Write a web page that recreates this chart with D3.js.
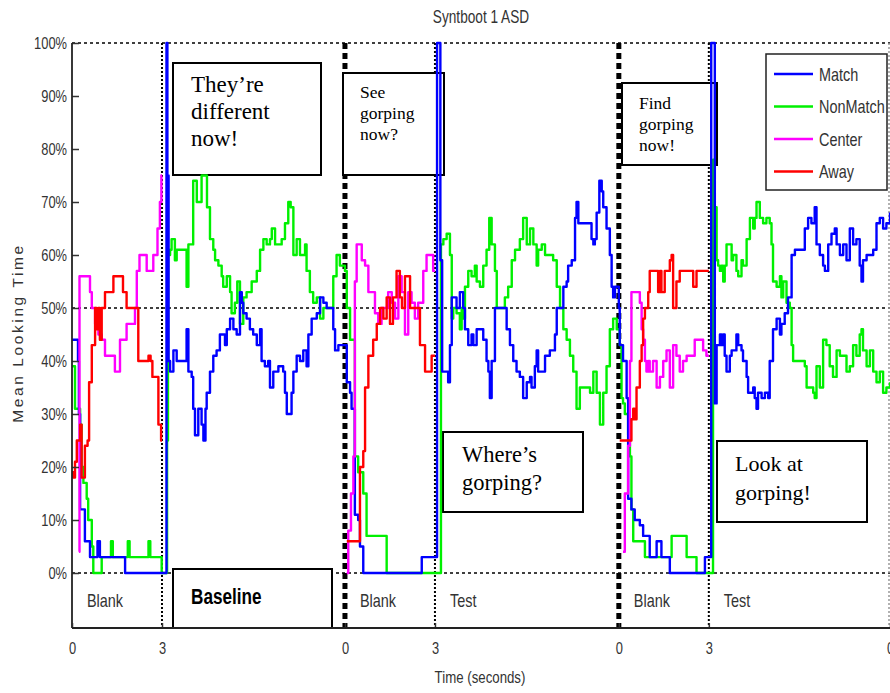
<!DOCTYPE html>
<html>
<head>
<meta charset="utf-8">
<script src="https://cdn.jsdelivr.net/npm/d3@7"></script>
<style>
  body { margin: 0; background: #fff; }
</style>
</head>
<body>
<div id="vis"></div>
<script>
// Syntboot 1 ASD - mean looking time per trial phase

// three trials on one time axis: each one is 3 s blank, then the test phase
const segStarts = [0, 9.1, 18.23];
const tEnd = 27.27;
const blankLen = 3;
const phaseNames = ["Blank", "Blank", "Test", "Blank", "Test"];
const xTickLabels = ["0", "3", "0", "3", "0", "3", "0"];
const yTicks = [0, 10, 20, 30, 40, 50, 60, 70, 80, 90, 100];

// [time within trial (s), % looking]
const matchSeg1 = [[0,44],[0.2,40],[0.23,30],[0.27,12],[0.33,12],[0.43,6],[0.6,3],[0.85,6],[0.93,3],[1.77,0],
  [3.15,100],[3.18,75],[3.22,40],[3.27,38],[3.38,42],[3.49,40],[3.77,40],[3.82,46],[3.88,38],[3.99,37],[4.04,31],
  [4.1,26],[4.21,31],[4.32,28],[4.38,25],[4.45,31],[4.49,34],[4.6,38],[4.71,41],[4.82,42],[4.93,45],[5.1,43],
  [5.16,46],[5.27,48],[5.38,46],[5.49,45],[5.6,53],[5.66,51],[5.71,49],[5.82,48],[5.93,46],[6.04,45],[6.16,43],
  [6.27,46],[6.32,40],[6.43,39],[6.54,40],[6.6,35],[6.71,38],[6.88,39],[7.04,38],[7.1,34],[7.16,30],[7.27,30],
  [7.32,34],[7.38,38],[7.49,41],[7.6,40],[7.71,42],[7.82,39],[7.88,45],[7.99,48],[8.16,49],[8.27,52],[8.38,51],
  [8.49,50],[8.71,46],[8.77,42],[8.88,43],[9.1,43]];
const nonMatchSeg1 = [[0,39],[0.1,31],[0.27,28],[0.32,20],[0.38,17],[0.49,14],[0.54,10],[0.66,5],[0.71,0],[0.99,3],
  [1.3,6],[1.36,3],[1.86,6],[1.92,3],[2.55,6],[2.61,3],[2.99,0],
  [3.17,25],[3.2,60],[3.27,61],[3.32,63],[3.43,59],[3.49,61],[3.77,61],[3.82,54],[3.88,62],[4.04,74],[4.16,70],
  [4.27,70],[4.32,75],[4.43,75],[4.5,69],[4.6,63],[4.71,61],[4.77,59],[4.88,58],[4.99,56],[5.04,54],[5.16,56],
  [5.27,53],[5.32,49],[5.43,51],[5.51,55],[5.6,47],[5.71,52],[5.82,53],[5.99,55],[6.16,57],[6.27,61],[6.38,63],
  [6.49,62],[6.6,63],[6.66,65],[6.77,62],[6.99,63],[7.1,66],[7.21,70],[7.29,69],[7.38,60],[7.49,63],[7.6,60],
  [7.77,62],[7.82,57],[7.93,53],[8.04,51],[8.16,52],[8.27,48],[8.38,50],[8.6,50],[8.71,56],[8.82,60],[8.93,58],[9.1,57]];
const centerSeg1 = [[0.23,4],[0.25,56],[0.6,53],[0.66,50],[0.77,47],[0.88,45],[0.99,44],[1.1,41],[1.43,38],[1.6,44],
  [1.82,47],[2.1,50],[2.16,57],[2.25,60],[2.49,57],[2.71,60],[2.85,65],[2.93,70],[2.98,75],[3.0,75]];
const awaySeg1 = [[0,19],[0.04,18],[0.1,21],[0.16,25],[0.27,28],[0.32,18],[0.43,24],[0.52,25],[0.57,36],[0.66,43],
  [0.77,50],[0.82,46],[0.88,50],[0.93,44],[0.99,50],[1.1,53],[1.38,56],[1.7,53],[1.82,50],[2.16,50],[2.21,40],
  [2.55,41],[2.62,40],[2.68,37],[2.88,28],[2.97,25],[3.0,25]];

const matchSeg2 = [[0,43],[0.06,36],[0.17,34],[0.22,31],[0.33,11],[0.44,10],[0.5,5],[0.61,0],[2.56,3],
  [3.07,100],[3.18,59],[3.24,38],[3.44,36],[3.5,43],[3.56,52],[3.72,50],[3.83,53],[3.94,50],[4.0,46],[4.11,43],
  [4.22,45],[4.28,43],[4.39,46],[4.5,46],[4.61,44],[4.72,40],[4.78,38],[4.83,33],[4.89,40],[5.0,50],[5.28,50],
  [5.39,46],[5.5,43],[5.61,40],[5.72,38],[5.83,37],[5.94,33],[6.06,36],[6.17,37],[6.22,35],[6.33,39],[6.39,42],
  [6.44,38],[6.56,38],[6.67,41],[6.83,42],[7.0,45],[7.06,50],[7.17,50],[7.28,54],[7.39,55],[7.44,58],[7.56,59],
  [7.67,67],[7.72,70],[7.78,66],[8.17,66],[8.22,63],[8.28,62],[8.33,63],[8.39,68],[8.48,74],[8.56,72],[8.61,69],
  [8.72,65],[8.83,60],[8.89,54],[8.94,52],[9.0,54],[9.13,54]];
const nonMatchSeg2 = [[0,57],[0.06,50],[0.17,44],[0.33,22],[0.44,19],[0.61,15],[0.72,7],[1.33,7],[1.39,0],
  [3.18,0],[3.2,62],[3.28,63],[3.39,64],[3.5,60],[3.56,48],[3.61,50],[3.72,49],[3.83,46],[3.89,50],[3.94,48],
  [4.0,54],[4.11,57],[4.22,56],[4.33,58],[4.39,55],[4.5,54],[4.61,58],[4.72,61],[4.81,67],[4.89,62],[5.0,57],
  [5.06,50],[5.22,50],[5.33,52],[5.44,54],[5.56,59],[5.67,61],[5.83,63],[5.94,67],[6.06,62],[6.17,65],[6.28,62],
  [6.39,58],[6.44,61],[6.56,62],[6.67,60],[6.83,60],[6.94,59],[7.06,54],[7.17,50],[7.28,46],[7.39,44],[7.5,41],
  [7.61,38],[7.72,31],[7.83,35],[8.11,35],[8.17,34],[8.28,38],[8.39,34],[8.5,28],[8.61,34],[8.72,39],[8.83,46],
  [8.94,48],[9.06,46],[9.13,46]];
const centerSeg2 = [[0.06,0],[0.11,8],[0.2,15],[0.28,22],[0.33,55],[0.39,62],[0.5,62],[0.56,59],[0.67,58],[0.78,53],
  [1.0,49],[1.11,47],[1.22,50],[1.44,53],[1.56,51],[1.67,48],[1.78,56],[1.89,53],[2.0,45],[2.11,53],[2.22,51],
  [2.33,48],[2.44,51],[2.61,57],[2.72,60],[2.94,57],[3.0,57]];
const awaySeg2 = [[0.06,6],[0.44,6],[0.5,20],[0.61,23],[0.67,35],[0.78,41],[0.94,44],[1.06,47],[1.17,50],[1.28,48],
  [1.39,52],[1.5,47],[1.6,52],[1.72,57],[1.83,52],[1.9,50],[2.0,56],[2.11,56],[2.17,50],[2.45,50],[2.5,43],
  [2.67,38],[2.89,41],[3.0,41]];

const matchSeg3 = [[0,50],[0.03,43],[0.14,40],[0.26,33],[0.31,14],[0.42,12],[0.53,10],[0.7,9],[0.81,7],[1.03,3],
  [1.26,6],[1.37,6],[1.42,3],[1.7,0],[2.87,3],
  [3.08,100],[3.17,100],[3.2,32],[3.26,43],[3.31,43],[3.37,45],[3.42,43],[3.48,45],[3.53,41],[3.59,38],[3.7,41],
  [3.76,42],[3.92,45],[3.98,43],[4.09,42],[4.14,40],[4.26,37],[4.31,34],[4.37,34],[4.48,35],[4.53,33],[4.59,31],
  [4.64,34],[4.76,33],[4.87,34],[4.98,33],[5.03,40],[5.14,46],[5.26,48],[5.37,45],[5.42,47],[5.53,49],[5.64,52],
  [5.76,60],[5.87,61],[6.09,61],[6.2,65],[6.31,67],[6.42,66],[6.53,69],[6.59,62],[6.7,60],[6.81,58],[6.87,57],
  [6.98,62],[7.09,64],[7.2,65],[7.26,62],[7.37,60],[7.48,62],[7.59,59],[7.7,65],[7.81,62],[7.92,63],[8.03,58],
  [8.09,55],[8.14,59],[8.26,60],[8.37,60],[8.48,61],[8.59,66],[8.7,67],[8.81,65],[8.92,66],[9.04,68]];
const nonMatchSeg3 = [[0,46],[0.03,43],[0.09,33],[0.14,32],[0.2,30],[0.31,26],[0.37,22],[0.42,12],[0.48,6],[0.81,6],
  [0.87,3],[1.76,7],[2.14,7],[2.26,3],[2.53,3],[2.59,0],
  [3.12,0],[3.14,78],[3.2,69],[3.26,59],[3.31,58],[3.37,57],[3.42,58],[3.48,55],[3.53,58],[3.59,62],[3.7,62],
  [3.76,59],[3.81,60],[3.92,57],[3.98,56],[4.09,59],[4.14,58],[4.26,63],[4.37,67],[4.48,65],[4.53,67],[4.59,70],
  [4.7,67],[4.81,66],[4.92,67],[5.03,66],[5.09,62],[5.14,55],[5.26,54],[5.37,56],[5.42,52],[5.48,55],[5.59,51],
  [5.7,50],[5.76,43],[5.81,40],[6.03,40],[6.2,39],[6.26,35],[6.37,35],[6.48,34],[6.53,33],[6.59,39],[6.7,35],
  [6.81,44],[6.92,43],[7.03,39],[7.14,37],[7.26,42],[7.37,41],[7.48,41],[7.59,38],[7.7,39],[7.81,43],[7.92,41],
  [8.03,45],[8.09,46],[8.14,42],[8.26,39],[8.37,42],[8.48,38],[8.59,36],[8.7,38],[8.81,34],[8.92,35],[9.04,36]];
const centerSeg3 = [[0.14,4],[0.2,15],[0.31,24],[0.37,40],[0.42,53],[0.64,53],[0.7,51],[0.76,46],[0.81,44],[0.87,40],
  [0.92,38],[0.98,40],[1.03,38],[1.14,40],[1.26,35],[1.37,37],[1.48,40],[1.59,42],[1.7,35],[1.81,43],[1.92,41],
  [2.03,38],[2.14,40],[2.26,41],[2.53,44],[2.81,42],[2.92,41],[3.0,41]];
const awaySeg3 = [[0.03,25],[0.42,29],[0.48,31],[0.53,29],[0.59,35],[0.7,40],[0.76,43],[0.81,48],[0.87,50],[0.98,53],
  [1.03,57],[1.26,57],[1.31,53],[1.37,57],[1.42,53],[1.53,57],[1.7,59],[1.76,60],[1.81,50],[1.92,55],[2.03,57],
  [2.37,57],[2.48,54],[2.53,54],[2.59,57],[3.0,57]];

const series = [
  { name: "Match",    color: "#0000ff", segs: [matchSeg1, matchSeg2, matchSeg3], joined: true },
  { name: "NonMatch", color: "#00f000", segs: [nonMatchSeg1, nonMatchSeg2, nonMatchSeg3], joined: true },
  { name: "Center",   color: "#ff00ff", segs: [centerSeg1, centerSeg2, centerSeg3], joined: false },
  { name: "Away",     color: "#ff0000", segs: [awaySeg1, awaySeg2, awaySeg3], joined: false }
];

// no narrow face installed, so squeeze Arial-metric text horizontally
const sans = "'Liberation Sans', Arial, sans-serif";
const squeeze = 0.78;
const serif = "'Liberation Serif', 'Times New Roman', serif";
const textGrey = "#333";

const width = 890, height = 693;
const margin = { left: 72, right: 0, top: 43 };
const zeroY = 573, floorY = 628;

const svg = d3.select("#vis").append("svg")
  .attr("width", width).attr("height", height);

function narrowText(parent, px, py, str, size) {
  return parent.append("text")
    .attr("transform", `translate(${px},${py}) scale(${squeeze},1)`)
    .attr("font-family", sans).attr("font-size", size)
    .attr("fill", textGrey)
    .text(str);
}

const x = d3.scaleLinear().domain([0, tEnd]).range([margin.left, width - margin.right]);
const y = d3.scaleLinear().domain([0, 100]).range([zeroY, margin.top]);

// dotted reference lines at 0, 50 and 100 %
[0, 50, 100].forEach(v => {
  svg.append("line")
    .attr("x1", x(0)).attr("x2", x(tEnd))
    .attr("y1", y(v)).attr("y2", y(v))
    .attr("stroke", "#000").attr("stroke-width", 1.6)
    .attr("stroke-dasharray", "3,3");
});

// phase separators
segStarts.forEach((s, i) => {
  if (i > 0) {
    svg.append("line")
      .attr("x1", x(s)).attr("x2", x(s))
      .attr("y1", margin.top).attr("y2", floorY)
      .attr("stroke", "#000").attr("stroke-width", 5)
      .attr("stroke-dasharray", "6,4");
  }
  svg.append("line")
    .attr("x1", x(s + blankLen)).attr("x2", x(s + blankLen))
    .attr("y1", margin.top).attr("y2", floorY)
    .attr("stroke", "#000").attr("stroke-width", 2)
    .attr("stroke-dasharray", "2,2");
});
svg.append("line")
  .attr("x1", x(tEnd) - 1).attr("x2", x(tEnd) - 1)
  .attr("y1", margin.top).attr("y2", floorY)
  .attr("stroke", "#999").attr("stroke-width", 1.5)
  .attr("stroke-dasharray", "2,2");

// phase names under the 0 % line
const phasePos = [];
segStarts.forEach((s, i) => {
  phasePos.push(s + 0.5);
  if (i > 0) phasePos.push(s + blankLen + 0.5);
});
phaseNames.forEach((name, i) => {
  narrowText(svg, x(phasePos[i]), 607, name, 18.5);
});

// annotation boxes
const notes = [
  { x: 173, y: 63,  w: 148, h: 112, size: 23,   tx: 191, base: 92,  lh: 27,   lines: ["They’re", "different", "now!"] },
  { x: 343, y: 73,  w: 101, h: 102, size: 17.5, tx: 360, base: 98,  lh: 21,   lines: ["See", "gorping", "now?"] },
  { x: 443, y: 432, w: 140, h: 80,  size: 22.5, tx: 462, base: 462, lh: 28,   lines: ["Where’s", "gorping?"] },
  { x: 622, y: 83,  w: 95,  h: 82,  size: 17.5, tx: 639, base: 109, lh: 21,   lines: ["Find", "gorping", "now!"] },
  { x: 717, y: 441, w: 150, h: 81,  size: 22,   tx: 735, base: 471, lh: 28.5, lines: ["Look at", "gorping!"] }
];
notes.forEach(n => {
  const g = svg.append("g");
  g.append("rect")
    .attr("x", n.x).attr("y", n.y).attr("width", n.w).attr("height", n.h)
    .attr("fill", "#fff").attr("stroke", "#000").attr("stroke-width", 2);
  n.lines.forEach((line, i) => {
    g.append("text")
      .attr("x", n.tx).attr("y", n.base + i * n.lh)
      .attr("font-family", serif).attr("font-size", n.size)
      .attr("fill", "#000")
      .text(line);
  });
});

// "Baseline" tab
svg.append("rect")
  .attr("x", 173).attr("y", 569).attr("width", 159).attr("height", floorY - 569)
  .attr("fill", "#fff").attr("stroke", "#000").attr("stroke-width", 2);
narrowText(svg, 191, 604, "Baseline", 22)
  .attr("font-weight", "bold").attr("fill", "#000");

// data lines
const line = d3.line()
  .x(d => x(d[0]))
  .y(d => y(d[1]))
  .curve(d3.curveStepAfter);

const drawOrder = [series[1], series[0], series[2], series[3]];
drawOrder.forEach(s => {
  const paths = s.joined
    ? [s.segs.flatMap((seg, i) => seg.map(p => [segStarts[i] + p[0], p[1]]))]
    : s.segs.map((seg, i) => seg.map(p => [segStarts[i] + p[0], p[1]]));
  paths.forEach(pts => {
    svg.append("path")
      .datum(pts)
      .attr("d", line)
      .attr("fill", "none")
      .attr("stroke", s.color)
      .attr("stroke-width", 2.4)
      .attr("stroke-linejoin", "round");
  });
});

// y axis
const yAxis = svg.append("g")
  .attr("transform", `translate(${margin.left},0)`)
  .call(d3.axisLeft(y).tickValues(yTicks).tickFormat(d => d + "%")
    .tickSizeInner(-7).tickSizeOuter(0).tickPadding(5));
yAxis.select(".domain").remove();
yAxis.selectAll("line").attr("stroke", "#333").attr("stroke-width", 1.5);
yAxis.selectAll("text")
  .attr("font-family", sans).attr("font-size", 16.5).attr("fill", textGrey)
  .attr("x", -5 / squeeze)
  .attr("transform", `scale(${squeeze},1)`);
svg.append("line")
  .attr("x1", margin.left).attr("x2", margin.left)
  .attr("y1", margin.top).attr("y2", floorY)
  .attr("stroke", "#222").attr("stroke-width", 1.8);

// x axis
const xTickValues = [];
segStarts.forEach(s => { xTickValues.push(s, s + blankLen); });
xTickValues.push(tEnd);
const xAxis = svg.append("g")
  .attr("transform", `translate(0,${floorY})`)
  .call(d3.axisBottom(x).tickValues(xTickValues).tickFormat((d, i) => xTickLabels[i])
    .tickSizeInner(-5).tickSizeOuter(0).tickPadding(14));
xAxis.select(".domain").remove();
xAxis.selectAll("line").attr("stroke", "#333").attr("stroke-width", 1.5);
xAxis.selectAll("text")
  .attr("font-family", sans).attr("font-size", 16.5).attr("fill", textGrey)
  .attr("transform", `scale(${squeeze},1)`);
svg.append("line")
  .attr("x1", margin.left).attr("x2", x(tEnd))
  .attr("y1", floorY).attr("y2", floorY)
  .attr("stroke", "#222").attr("stroke-width", 1.8);

// legend
const legend = svg.append("g").attr("transform", "translate(766,54)");
legend.append("rect")
  .attr("width", 121).attr("height", 136)
  .attr("fill", "#fff").attr("stroke", "#222").attr("stroke-width", 1.5);
series.forEach((s, i) => {
  const ly = 20 + i * 32.5;
  legend.append("line")
    .attr("x1", 8).attr("x2", 47).attr("y1", ly).attr("y2", ly)
    .attr("stroke", s.color).attr("stroke-width", 2.5);
  narrowText(legend, 53, ly + 6.5, s.name, 18.5);
});

// titles
narrowText(svg, 481, 23, "Syntboot 1 ASD", 17.5).attr("text-anchor", "middle");
narrowText(svg, 480, 683, "Time (seconds)", 17).attr("text-anchor", "middle");

svg.append("text")
  .attr("transform", "translate(23,333) rotate(-90)")
  .attr("text-anchor", "middle")
  .attr("font-family", sans)
  .attr("font-size", 15.5).attr("letter-spacing", 2.6)
  .attr("fill", textGrey)
  .text("Mean Looking Time");
</script>
</body>
</html>
